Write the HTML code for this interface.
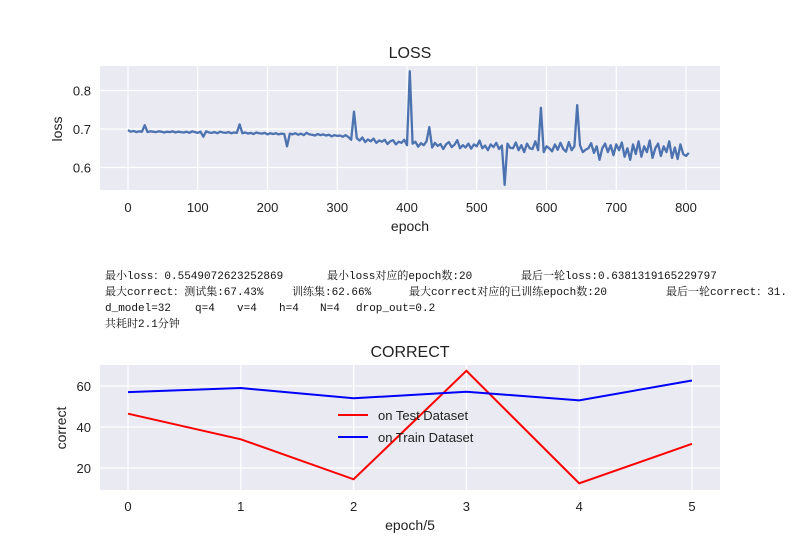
<!DOCTYPE html>
<html><head><meta charset="utf-8"><style>
body{margin:0;background:#fff;width:800px;height:550px;overflow:hidden;position:relative;font-family:"Liberation Sans",sans-serif}
.t{position:absolute;font-family:"Liberation Mono","Noto Serif CJK SC",monospace;font-size:11px;color:#111;white-space:pre;line-height:12px}
</style></head><body>
<svg id="s" width="800" height="550" style="position:absolute;left:0;top:0"></svg>
<div class="t" style="left:105px;top:271px">最小loss：0.5549072623252869</div>
<div class="t" style="left:327px;top:271px">最小loss对应的epoch数:20</div>
<div class="t" style="left:521px;top:271px">最后一轮loss:0.6381319165229797</div>
<div class="t" style="left:105px;top:287px">最大correct：测试集:67.43%</div>
<div class="t" style="left:292px;top:287px">训练集:62.66%</div>
<div class="t" style="left:409px;top:287px">最大correct对应的已训练epoch数:20</div>
<div class="t" style="left:666px;top:287px">最后一轮correct：31.</div>
<div class="t" style="left:105px;top:303px">d_model=32</div>
<div class="t" style="left:195px;top:303px">q=4</div>
<div class="t" style="left:237px;top:303px">v=4</div>
<div class="t" style="left:279px;top:303px">h=4</div>
<div class="t" style="left:320px;top:303px">N=4</div>
<div class="t" style="left:356px;top:303px">drop_out=0.2</div>
<div class="t" style="left:105px;top:319px">共耗时2.1分钟</div>
<script>
const lossValues=[
0.697,0.693,0.695,0.692,0.694,0.693,0.71,0.692,0.694,0.693,0.692,0.694,0.693,0.691,0.693,0.692,0.694,0.691,0.693,0.692,
0.691,0.693,0.690,0.694,0.692,0.690,0.693,0.680,0.694,0.691,0.690,0.692,0.689,0.693,0.691,0.690,0.692,0.689,0.691,0.690,
0.712,0.689,0.691,0.688,0.690,0.687,0.691,0.689,0.688,0.690,0.686,0.689,0.687,0.689,0.686,0.688,0.687,0.655,0.688,0.686,
0.689,0.685,0.688,0.684,0.690,0.686,0.685,0.683,0.687,0.684,0.686,0.683,0.685,0.681,0.684,0.682,0.683,0.680,0.684,0.679,
0.672,0.745,0.676,0.670,0.678,0.666,0.673,0.668,0.675,0.664,0.670,0.667,0.672,0.661,0.668,0.671,0.660,0.667,0.664,0.672,
0.658,0.850,0.662,0.667,0.654,0.663,0.658,0.668,0.705,0.652,0.664,0.656,0.661,0.648,0.660,0.666,0.653,0.659,0.671,0.650,
0.658,0.652,0.662,0.649,0.660,0.655,0.670,0.650,0.657,0.645,0.660,0.653,0.664,0.648,0.657,0.555,0.662,0.651,0.650,0.665,
0.645,0.658,0.640,0.662,0.650,0.648,0.668,0.645,0.755,0.640,0.655,0.650,0.642,0.660,0.646,0.664,0.648,0.641,0.666,0.645,
0.655,0.762,0.658,0.640,0.646,0.650,0.663,0.638,0.655,0.620,0.650,0.662,0.640,0.658,0.632,0.660,0.645,0.665,0.628,0.650,
0.620,0.660,0.635,0.668,0.628,0.655,0.640,0.670,0.625,0.650,0.662,0.630,0.655,0.640,0.668,0.625,0.652,0.622,0.660,0.635,
0.630,0.638];
const lossEpochStep=4;
const lossXTicks=[0,100,200,300,400,500,600,700,800];
const lossYTicks=[0.6,0.7,0.8];
const correctEpochs=[0,1,2,3,4,5];
const testCorrect=[46.5,34,14.5,67.4,12.5,31.8];
const trainCorrect=[57,59,54,57.2,53,62.7];
const correctYTicks=[20,40,60];

const S=document.getElementById('s');const NS='http://www.w3.org/2000/svg';
function mk(tag,attrs,parent){const e=document.createElementNS(NS,tag);for(const k in attrs)e.setAttribute(k,attrs[k]);(parent||S).appendChild(e);return e;}
function txt(x,y,s,size,anchor,parent){const t=mk('text',{x:x,y:y,'font-size':size,'text-anchor':anchor||'middle',fill:'#222','font-family':'Liberation Sans, sans-serif'},parent);t.textContent=s;return t;}

const L={x:100,y:66,w:620,h:124};
const lx=v=>128+v*(686-128)/800;
const ly=v=>129-(v-0.7)*385;
const g1=mk('g',{});


const bg1=mk('rect',{x:L.x,y:L.y,width:L.w,height:L.h,fill:'#eaeaf2'},g1);


lossXTicks.forEach(v=>{mk('line',{x1:lx(v),x2:lx(v),y1:L.y,y2:L.y+L.h,stroke:'#fff','stroke-width':1.2},g1);
 const t=txt(lx(v),212,String(v),13,'middle',g1);});
lossYTicks.forEach(v=>{mk('line',{x1:L.x,x2:L.x+L.w,y1:ly(v),y2:ly(v),stroke:'#fff','stroke-width':1.2},g1);
 const t=txt(91,ly(v)+5,v.toFixed(1),13,'end',g1);});
const lp=mk('polyline',{points:lossValues.map((v,i)=>lx(i*lossEpochStep)+','+ly(v)).join(' '),fill:'none',stroke:'#4c72b0','stroke-width':2.3,'stroke-linejoin':'round'},g1);


let t=txt(410,58,'LOSS',16,'middle',g1);
t=txt(410,231,'epoch',14,'middle',g1);
t=txt(0,0,'loss',14,'middle',g1);t.setAttribute('transform','translate(62,129) rotate(-90)');

const C={x:100,y:365,w:620,h:125};
const cx=v=>128+v*(692-128)/5;
const cy=v=>427-(v-40)*2.05;
const g2=mk('g',{});


const bg2=mk('rect',{x:C.x,y:C.y,width:C.w,height:C.h,fill:'#eaeaf2'},g2);


correctEpochs.forEach(v=>{mk('line',{x1:cx(v),x2:cx(v),y1:C.y,y2:C.y+C.h,stroke:'#fff','stroke-width':1.2},g2);
 const t=txt(cx(v),511,String(v),13,'middle',g2);});
correctYTicks.forEach(v=>{mk('line',{x1:C.x,x2:C.x+C.w,y1:cy(v),y2:cy(v),stroke:'#fff','stroke-width':1.2},g2);
 const t=txt(91,cy(v)+5,String(v),13,'end',g2);});
const tp=mk('polyline',{points:testCorrect.map((v,i)=>cx(correctEpochs[i])+','+cy(v)).join(' '),fill:'none',stroke:'#ff0000','stroke-width':2},g2);


const rp=mk('polyline',{points:trainCorrect.map((v,i)=>cx(correctEpochs[i])+','+cy(v)).join(' '),fill:'none',stroke:'#0000ff','stroke-width':2},g2);


const lg=mk('g',{},g2);


mk('line',{x1:338,x2:368,y1:415,y2:415,stroke:'#ff0000','stroke-width':2},lg);
t=txt(378,420,'on Test Dataset',13,'start',lg);
mk('line',{x1:338,x2:368,y1:437,y2:437,stroke:'#0000ff','stroke-width':2},lg);
t=txt(378,442,'on Train Dataset',13,'start',lg);
t=txt(410,357,'CORRECT',16,'middle',g2);
t=txt(410,530,'epoch/5',14,'middle',g2);
t=txt(0,0,'correct',14,'middle',g2);t.setAttribute('transform','translate(66,428) rotate(-90)');
</script>
</body></html>
